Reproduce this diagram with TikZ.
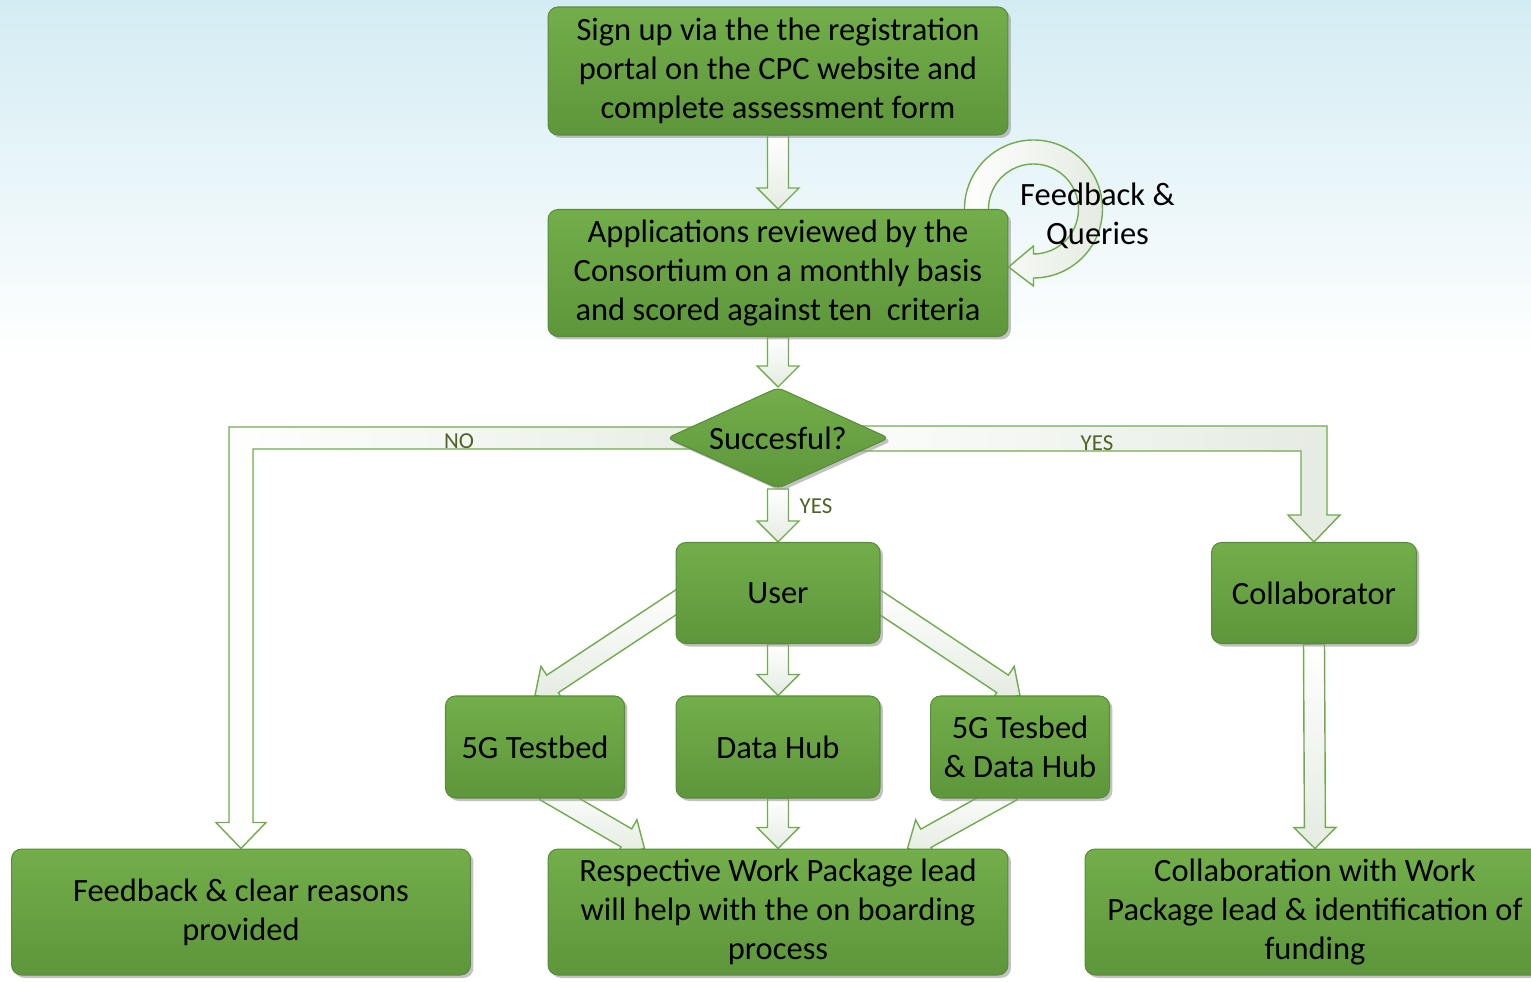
\documentclass[tikz,border=0pt]{standalone}
\usepackage{fontspec}
\setmainfont{Carlito}
\usetikzlibrary{shapes,calc,shadows}

\definecolor{boxtop}{HTML}{72AE4A}
\definecolor{boxbot}{HTML}{5E963B}
\definecolor{boxline}{HTML}{5A8C3A}
\definecolor{arrline}{HTML}{72AA50}
\definecolor{arrfill}{HTML}{E4EBE1}
\definecolor{bgblue}{HTML}{D3ECF3}
\definecolor{yntext}{HTML}{4F6228}
\definecolor{shadowgrey}{HTML}{9A9A9A}

\newcommand\boxfont{\fontsize{18.5}{22.2}\selectfont}
\newcommand\ynfont{\fontsize{13}{15}\selectfont}

\pgfdeclarelayer{bg}
\pgfdeclarelayer{arrows}
\pgfsetlayers{bg,arrows,main}

\begin{document}
\begin{tikzpicture}
[x=0.02cm,y=-0.02cm]
\tikzstyle{box}=[rectangle,rounded corners=0.2cm,draw=boxline,line width=0.6pt,
    top color=boxtop,bottom color=boxbot,font=\boxfont,align=center,inner sep=2pt,
    drop shadow={shadow xshift=0.06cm,shadow yshift=-0.06cm,fill=shadowgrey,opacity=0.6}]
\tikzstyle{decision}=[box,diamond,aspect=2.2,minimum width=4.44cm,minimum height=2.02cm,
    inner sep=0pt,rounded corners=0.12cm]
\tikzstyle{yn}=[font=\ynfont,text=yntext,inner sep=0pt]
\tikzstyle{blk}=[draw=arrline,line width=0.8pt,top color=white,bottom color=arrfill]
\tikzstyle{blockarr}=[blk,to path={
    ($(\tikztostart)!0.21cm!90:(\tikztotarget)$)
    -- ($(\tikztotarget)!0.42cm!(\tikztostart)!0.21cm!90:(\tikztotarget)$)
    -- ($(\tikztotarget)!0.42cm!(\tikztostart)!0.42cm!90:(\tikztotarget)$)
    -- (\tikztotarget)
    -- ($(\tikztotarget)!0.42cm!(\tikztostart)!0.42cm!-90:(\tikztotarget)$)
    -- ($(\tikztotarget)!0.42cm!(\tikztostart)!0.21cm!-90:(\tikztotarget)$)
    -- ($(\tikztostart)!0.21cm!-90:(\tikztotarget)$) -- cycle}]

\useasboundingbox (0,0) rectangle (1531,981);
\begin{pgfonlayer}{bg}
\fill[white] (0,0) rectangle (1531,981);
\fill[top color=bgblue,bottom color=white] (0,0) rectangle (1531,360);
\end{pgfonlayer}

% steps
\node[box,minimum width=9.2cm,minimum height=2.56cm] (sign) at (778,71)
    {Sign up via the the registration\\portal on the CPC website and\\complete assessment form};
\node[box,minimum width=9.2cm,minimum height=2.54cm] (review) at (778,273)
    {Applications reviewed by the\\Consortium on a monthly basis\\and scored against ten\ \ criteria};
\node[decision] (dec) at (778,438) {Succesful?};
\node[box,minimum width=4.08cm,minimum height=2.02cm] (user) at (778,593) {User};
\node[box,minimum width=4.1cm,minimum height=2.02cm] (coll) at (1314,593) {Collaborator};
\node[box,minimum width=3.58cm,minimum height=2.04cm] (tb) at (535,747) {5G Testbed};
\node[box,minimum width=4.08cm,minimum height=2.04cm] (hub) at (778,747) {Data Hub};
\node[box,minimum width=3.58cm,minimum height=2.04cm] (tbhub) at (1020,747) {5G Tesbed\\\& Data Hub};
\node[box,minimum width=9.18cm,minimum height=2.52cm] (fb) at (241,912)
    {Feedback \& clear reasons\\provided};
\node[box,minimum width=9.2cm,minimum height=2.52cm] (resp) at (778,912)
    {Respective Work Package lead\\will help with the on boarding\\process};
\node[box,minimum width=9.2cm,minimum height=2.52cm] (collab) at (1315,912)
    {Collaboration with Work\\Package lead \& identification of\\funding};

% free ends
\coordinate (loopc) at ($(review.north east)+(25,0)$);
\coordinate (uw) at ($(user.west)+(10,3)$);
\coordinate (ue) at ($(user.east)+(-10,3)$);
\coordinate (tbs) at ($(tb.south)+(10,-8)$);
\coordinate (ths) at ($(tbhub.south)+(-8,-8)$);
\coordinate (rl) at ($(resp.north west)+(97,0)$);
\coordinate (rr) at ($(resp.north east)+(-101,0)$);

\begin{pgfonlayer}{arrows}
\draw[blockarr] (sign.south) to (review.north);
\draw[blockarr] (review.south) to (dec.north);
\draw[blockarr] (dec.south) to (user.north);
\draw[blockarr] (user.south) to (hub.north);
\draw[blockarr] (hub.south) to (resp.north);
\draw[blockarr] (coll.south) to (collab.north);
\draw[blockarr] (uw) to (tb.north);
\draw[blockarr] (ue) to (tbhub.north);
\draw[blockarr] (tbs) to (rl);
\draw[blockarr] (ths) to (rr);
% no / yes
\draw[blk,left color=white,right color=arrfill] ($(dec.center)+(0,-11)$) -| ($(fb.north)+(-12,-26)$)
    -- ($(fb.north)+(-25,-26)$) -- (fb.north) -- ($(fb.north)+(25,-26)$)
    -- ($(fb.north)+(12,-26)$) |- ($(dec.center)+(0,11)$) -- cycle;
\draw[blk,left color=white,right color=arrfill] ($(dec.center)+(0,-12)$) -| ($(coll.north)+(13,-27)$)
    -- ($(coll.north)+(26,-27)$) -- (coll.north) -- ($(coll.north)+(-26,-27)$)
    -- ($(coll.north)+(-13,-27)$) |- ($(dec.center)+(0,13)$) -- cycle;
% feedback loop
\draw[blk,left color=white,right color=arrfill] ($(loopc)+(170:69)$)
    arc[start angle=170,end angle=450,radius=69]
    -- ($(loopc)+(0,77)$) -- ($(review.east)+(0,-6)$) -- ($(loopc)+(0,37)$)
    -- ($(loopc)+(0,45)$) arc[start angle=450,end angle=170,radius=45] -- cycle;
\end{pgfonlayer}

\node[font=\boxfont,align=center,inner sep=0pt] (fq) at ($(loopc)+(64,7)$) {Feedback \&\\Queries};
\node[yn] (no) at (459,441) {NO};
\node[yn] (yes1) at (1097,443) {YES};
\node[yn] (yes2) at (816,506) {YES};
\end{tikzpicture}
\end{document}
